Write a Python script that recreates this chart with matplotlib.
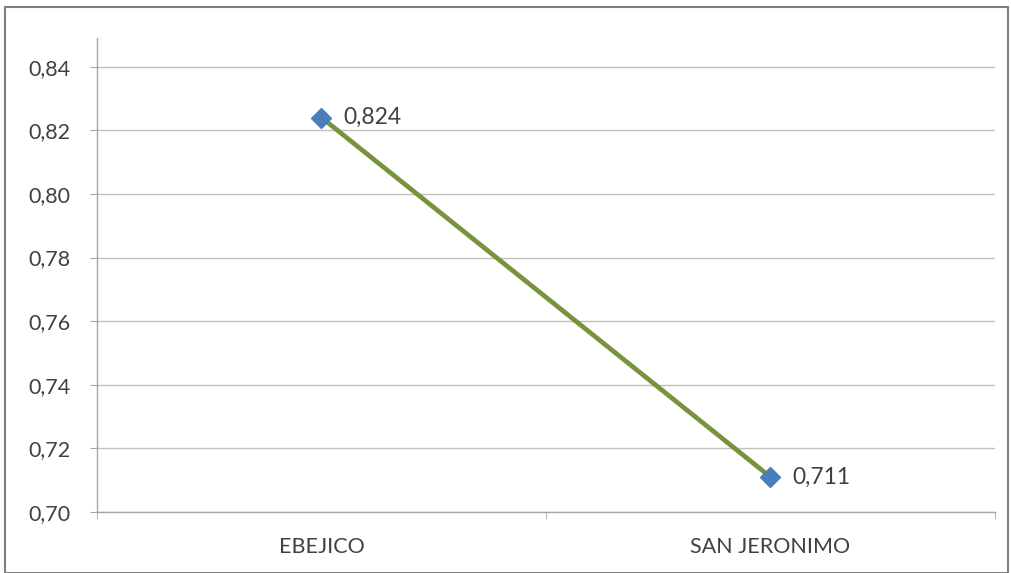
import matplotlib
matplotlib.use("Agg")
import matplotlib.pyplot as plt
from matplotlib.patches import Rectangle

plt.rcParams["font.family"] = ["Lato", "DejaVu Sans"]

categories = ["EBEJICO", "SAN JERONIMO"]
values = [0.824, 0.711]
value_labels = ["0,824", "0,711"]
yticks = [0.70, 0.72, 0.74, 0.76, 0.78, 0.80, 0.82, 0.84]
ytick_labels = ["0,70", "0,72", "0,74", "0,76", "0,78", "0,80", "0,82", "0,84"]

fig = plt.figure(figsize=(10.12, 5.73), dpi=100)
fig.patch.set_facecolor("white")
fig.patches.append(Rectangle((5/1012, 0), 1003/1012, 1 - 7/573, transform=fig.transFigure,
                             fill=False, edgecolor="#7f7f7f", linewidth=1.5))

ax = fig.add_axes([97/1012, 1 - 512/573, 898/1012, (512 - 38)/573])
x = list(range(len(categories)))
ax.plot(x, values, color="#77933C", linewidth=3.4, zorder=3)
ax.plot(x, values, linestyle="none", marker="D", markersize=10.5,
        markerfacecolor="#4A7EBB", markeredgecolor="#4A7EBB", zorder=4)
for xi, v, lab in zip(x, values, value_labels):
    ax.annotate(lab, (xi, v), xytext=(16, 0), textcoords="offset points",
                va="center", ha="left", fontsize=16.5, color="#404040")

ax.set_xlim(-0.5, 1.5)
ax.set_ylim(0.70, 0.849)
ax.set_yticks(yticks)
ax.set_yticklabels(ytick_labels, fontsize=15.5, color="#404040")
ax.set_xticks(x)
ax.set_xticklabels(categories, fontsize=15.5, color="#404040")
ax.tick_params(axis="x", length=0, pad=18)
ax.tick_params(axis="y", length=5, color="#a6a6a6", pad=14)
ax.set_xticks([-0.5, 0.5, 1.5], minor=True)
ax.tick_params(axis="x", which="minor", length=5, color="#a6a6a6")
ax.grid(axis="y", color="#bfbfbf", linewidth=1)
ax.set_axisbelow(True)
for s in ["top", "right"]:
    ax.spines[s].set_visible(False)
for s in ["left", "bottom"]:
    ax.spines[s].set_color("#a6a6a6")
    ax.spines[s].set_linewidth(1)

fig.savefig("out.png", dpi=100)
